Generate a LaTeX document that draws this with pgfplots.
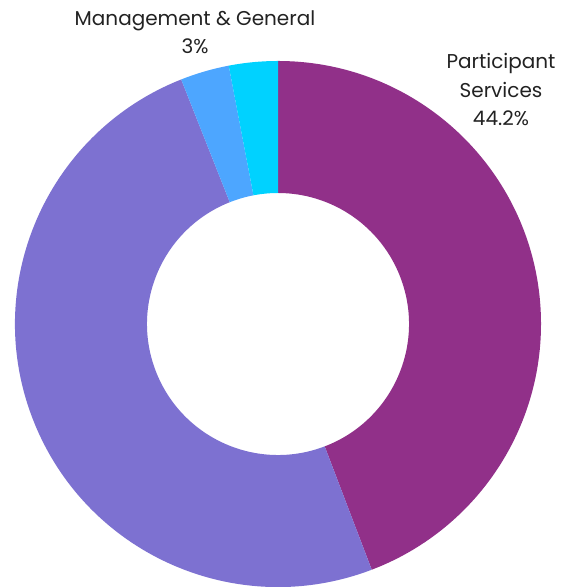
\documentclass[border=0pt]{standalone}
\usepackage{fontspec}
\setmainfont{Poppins}
\usepackage{pgfplots}
\usepackage{pgfplotstable}
\pgfplotsset{compat=1.18}
\usetikzlibrary{calc}
\definecolor{cA}{HTML}{913089}
\definecolor{cB}{HTML}{7D71D1}
\definecolor{cC}{HTML}{4DA6FF}
\definecolor{cD}{HTML}{00D2FF}
\definecolor{txt}{HTML}{222222}
\pgfplotstableread{
name value
Participant 44.2
Program 49.8
Fundraising 3.0
Management 3.0
}\datatable
\begin{document}
\begin{tikzpicture}
\pgfplotstablegetelem{0}{value}\of\datatable \pgfmathsetmacro\va{\pgfplotsretval}
\pgfplotstablegetelem{1}{value}\of\datatable \pgfmathsetmacro\vb{\pgfplotsretval}
\pgfplotstablegetelem{2}{value}\of\datatable \pgfmathsetmacro\vc{\pgfplotsretval}
\pgfplotstablegetelem{3}{value}\of\datatable \pgfmathsetmacro\vd{\pgfplotsretval}
\pgfmathsetmacro\aA{90}
\pgfmathsetmacro\aB{\aA-3.6*\va}
\pgfmathsetmacro\aC{\aB-3.6*\vb}
\pgfmathsetmacro\aD{\aC-3.6*\vc}
\pgfmathsetmacro\aE{\aD-3.6*\vd}
\def\Ro{263bp}
\def\Ri{131bp}
\newcommand{\donutwedge}[3]{%
\fill[#3] ($(axis cs:278,263)+(#1:\Ro)$) arc[start angle=#1, end angle=#2, radius=\Ro]
 -- ($(axis cs:278,263)+(#2:\Ri)$) arc[start angle=#2, end angle=#1, radius=\Ri] -- cycle;}
\begin{axis}[name=ax,
  x=1bp, y=1bp, xmin=0, xmax=577, ymin=0, ymax=587,
  scale only axis, hide axis, clip=false,
]
\donutwedge{\aA}{\aB}{cA}
\donutwedge{\aB}{\aC}{cB}
\donutwedge{\aC}{\aD}{cC}
\donutwedge{\aD}{\aE}{cD}
\node[text=txt, align=center, font=\fontsize{20bp}{28bp}\selectfont, anchor=center] at (axis cs:195,555) {Management \& General\\3\%};
\node[text=txt, align=center, font=\fontsize{20bp}{28.5bp}\selectfont, anchor=center] at (axis cs:501,497) {Participant\\Services\\44.2\%};
\end{axis}
\pgfresetboundingbox
\path[use as bounding box] (ax.south west) rectangle (ax.north east);
\end{tikzpicture}
\end{document}
